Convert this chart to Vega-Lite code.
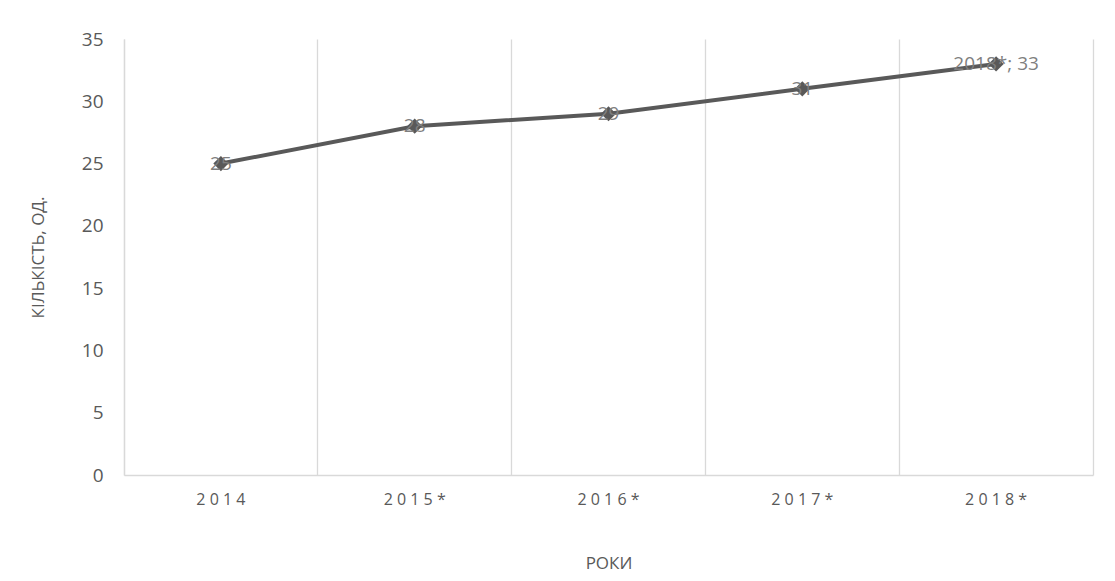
{
  "$schema": "https://vega.github.io/schema/vega-lite/v6.json",
  "autosize": "none",
  "width": 969,
  "height": 436,
  "padding": {"left": 124, "top": 39, "right": 22, "bottom": 106},
  "background": "white",
  "config": {
    "view": {"stroke": null},
    "font": "Open Sans"
  },
  "data": {
    "values": [
      {"year": "2014", "count": 25, "label": "25"},
      {"year": "2015*", "count": 28, "label": "28"},
      {"year": "2016*", "count": 29, "label": "29"},
      {"year": "2017*", "count": 31, "label": "31"},
      {"year": "2018*", "count": 33, "label": "2018*; 33"}
    ]
  },
  "encoding": {
    "x": {
      "field": "year",
      "type": "ordinal",
      "sort": null,
      "scale": {"type": "band", "paddingInner": 0, "paddingOuter": 0},
      "axis": {
        "title": "РОКИ",
        "titleFontSize": 17,
        "titleFontWeight": "normal",
        "titleColor": "#595959",
        "titlePadding": 48,
        "labelAngle": 0,
        "labelFontSize": 16,
        "labelColor": "#595959",
        "labelPadding": 16,
        "labelExpr": "join(split(datum.label, ''), ' ')",
        "ticks": false,
        "grid": true,
        "gridColor": "#d9d9d9",
        "gridWidth": 1.3,
        "bandPosition": 0,
        "domainColor": "#d9d9d9",
        "domainWidth": 1.3
      }
    }
  },
  "layer": [
    {
      "mark": {"type": "line", "color": "#595959", "strokeWidth": 4},
      "encoding": {
        "y": {
          "field": "count",
          "type": "quantitative",
          "scale": {"domain": [0, 35]},
          "axis": {
            "title": "КІЛЬКІСТЬ, ОД.",
            "titleFontSize": 17,
            "titleFontWeight": "normal",
            "titleColor": "#595959",
            "titlePadding": 34,
            "values": [0, 5, 10, 15, 20, 25, 30, 35],
            "labelFontSize": 19,
            "labelColor": "#595959",
            "labelPadding": 21,
            "ticks": false,
            "grid": false,
            "domainColor": "#d9d9d9",
            "domainWidth": 1.3
          }
        }
      }
    },
    {
      "mark": {"type": "point", "shape": "diamond", "filled": true, "color": "#595959", "size": 230, "opacity": 1},
      "encoding": {
        "y": {
          "field": "count",
          "type": "quantitative",
          "scale": {"domain": [0, 35]},
          "axis": {
            "orient": "right",
            "title": null,
            "labels": false,
            "ticks": false,
            "grid": false,
            "domainColor": "#d9d9d9",
            "domainWidth": 1.3
          }
        }
      }
    },
    {
      "mark": {"type": "text", "fontSize": 19, "color": "#7f7f7f", "align": "center", "baseline": "middle"},
      "encoding": {
        "y": {"field": "count", "type": "quantitative", "scale": {"domain": [0, 35]}, "axis": null},
        "text": {"field": "label"}
      }
    }
  ],
  "resolve": {"scale": {"y": "independent"}, "axis": {"y": "independent"}}
}
